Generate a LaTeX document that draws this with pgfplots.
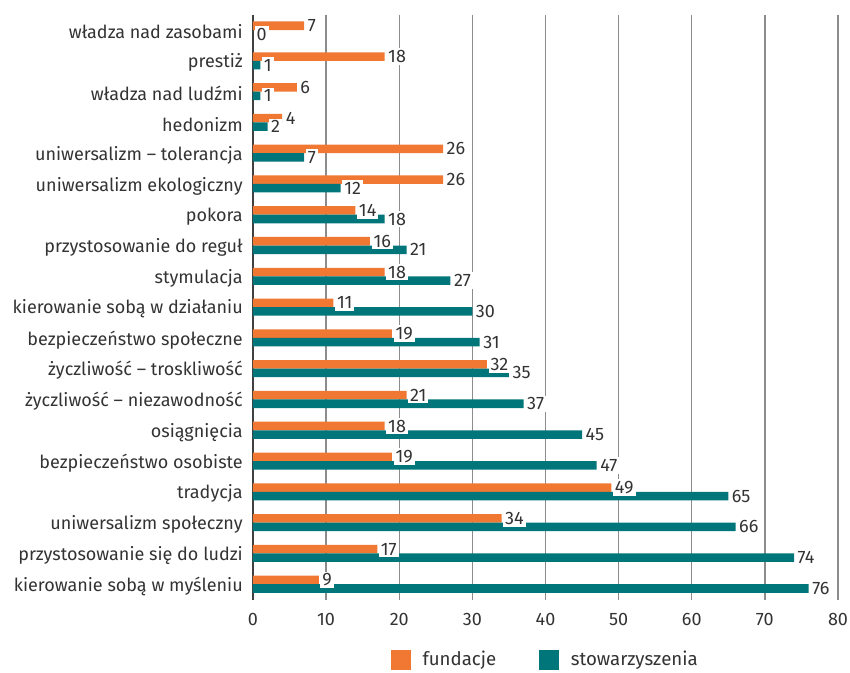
\documentclass[border=0pt]{standalone}
\usepackage{fontspec}
\setmainfont{Fira Sans}
\usepackage{pgfplots}
\pgfplotsset{compat=1.18}
\definecolor{orng}{RGB}{241,120,50}
\definecolor{tealc}{RGB}{0,118,122}
\definecolor{txt}{RGB}{51,51,51}

\begin{document}
\fontsize{13.5pt}{16pt}\selectfont
\begin{tikzpicture}
\begin{axis}[
  at={(0,0)}, anchor=south west,
  scale only axis, width=438.75pt, height=438.75pt,
  xbar, bar width=6.4pt,
  xmin=0, xmax=80, ymin=-0.5, ymax=18.5, y dir=reverse,
  xtick={0,10,...,80}, ytick={0,...,18},
  yticklabels={władza nad zasobami, prestiż, władza nad ludźmi, hedonizm,
    uniwersalizm – tolerancja, uniwersalizm ekologiczny, pokora,
    przystosowanie do reguł, stymulacja, kierowanie sobą w działaniu,
    bezpieczeństwo społeczne, życzliwość – troskliwość,
    życzliwość – niezawodność, osiągnięcia, bezpieczeństwo osobiste,
    tradycja, uniwersalizm społeczny, przystosowanie się do ludzi,
    kierowanie sobą w myśleniu},
  axis line style={draw=none},
  major tick length=0pt,
  xmajorgrids, grid style={black!45, line width=1.1pt},
  extra x ticks={0}, extra x tick labels={},
  extra x tick style={grid style={black!75, line width=1.1pt}},
  /pgf/number format/assume math mode=true,
  tick label style={text=txt, font=\fontsize{13.5pt}{16pt}\selectfont},
  yticklabel style={inner sep=0pt, xshift=-7.5pt, yshift=-1.5pt},
  xticklabel style={inner sep=0pt, yshift=-10pt},
  point meta=x,
  nodes near coords,
  every node near coord/.append style={text=txt, fill=white, inner sep=1.5pt, anchor=west,
    xshift=1pt, font=\fontsize{13.5pt}{16pt}\selectfont},
  legend columns=-1,
  legend style={draw=none, at={(0.5,-0.1026)}, anchor=center,
    font=\fontsize{14pt}{16pt}\selectfont, text=txt,
    /tikz/every odd column/.append style={column sep=7pt},
    /tikz/every even column/.append style={column sep=30pt}},
  legend image code/.code={\fill[#1] (0pt,-7.5pt) rectangle (15pt,7.5pt);},
]
\addplot[fill=orng, draw=none, bar shift=3.2pt] coordinates {
  (7,0) (18,1) (6,2) (4,3) (26,4) (26,5) (14,6) (16,7) (18,8) (11,9)
  (19,10) (32,11) (21,12) (18,13) (19,14) (49,15) (34,16) (17,17) (9,18)};
\addlegendentry{fundacje}
\addplot[fill=tealc, draw=none, bar shift=-3.2pt] coordinates {
  (0,0) (1,1) (1,2) (2,3) (7,4) (12,5) (18,6) (21,7) (27,8) (30,9)
  (31,10) (35,11) (37,12) (45,13) (47,14) (65,15) (66,16) (74,17) (76,18)};
\addlegendentry{stowarzyszenia}
\end{axis}
\pgfresetboundingbox
\path[use as bounding box] (-189.75pt,-54.75pt) rectangle (447.75pt,449.7pt);
\end{tikzpicture}
\end{document}
